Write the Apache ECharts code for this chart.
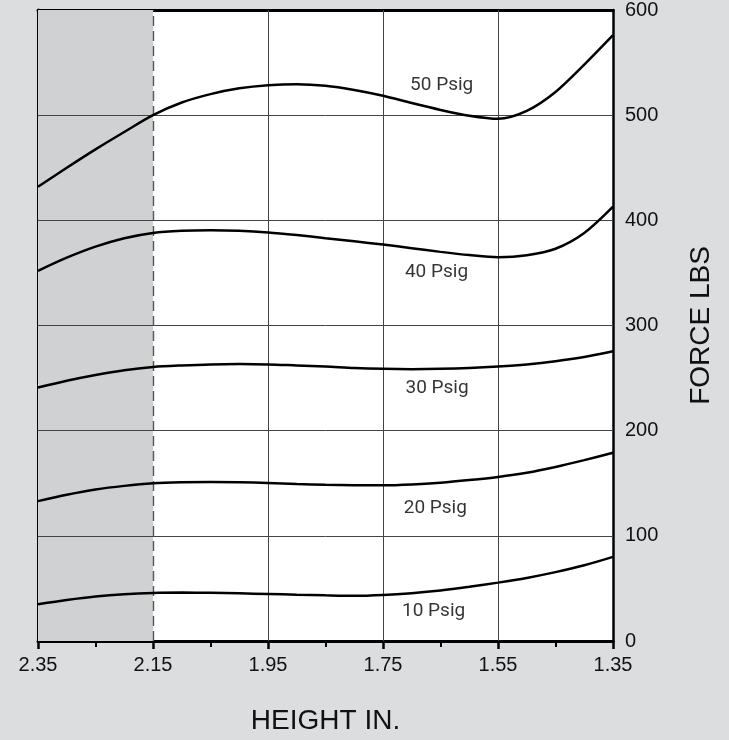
<!DOCTYPE html>
<html>
<head>
<meta charset="utf-8">
<script src="https://cdn.jsdelivr.net/npm/echarts@6/dist/echarts.min.js"></script>
<style>
  html, body { margin: 0; padding: 0; background: #dcdddf; }
  #chart { width: 729px; height: 740px; }
</style>
</head>
<body>
<div id="chart"></div>
<script>
// ---- data ----
const heights = [2.35, 2.30, 2.25, 2.20, 2.15, 2.10, 2.05, 2.00, 1.95, 1.90, 1.85,
                 1.80, 1.75, 1.70, 1.65, 1.60, 1.55, 1.50, 1.45, 1.40, 1.35];
const psig50 = [432, 450, 467.5, 484, 500, 512, 520, 525.5, 528.5, 529.5, 528,
                524, 518.5, 511.5, 505, 499.5, 496.5, 504, 522, 548, 576];
const psig40 = [352, 364.5, 375, 383, 388, 390, 390.5, 390, 388.5, 386, 383,
                380, 377, 373.5, 370, 367, 365, 366.8, 373, 388, 413];
const psig30 = [241, 247.5, 253, 257.5, 260.5, 262, 263, 263.3, 263, 262, 261,
                259.6, 258.8, 258.5, 258.8, 259.6, 261, 263, 266, 270, 275.5];
const psig20 = [133, 139, 144, 147.5, 150, 151, 151.3, 151, 150.2, 149.3, 148.6,
                148.1, 148, 148.8, 150.5, 153, 156, 160, 165.5, 172, 179];
const psig10 = [35, 39, 42.3, 44.5, 45.7, 46, 45.8, 45.3, 44.7, 44, 43.4,
                43, 43.8, 45.5, 48, 51.5, 55.5, 60, 65.5, 72, 80];
const seriesNames = ['50 Psig', '40 Psig', '30 Psig', '20 Psig', '10 Psig'];
const labelHeights = [1.648, 1.657, 1.656, 1.659, 1.662];
const labelForces = [528, 351, 240, 126, 28];
const shadedRange = [2.35, 2.15];
const dashedHeight = 2.15;
const solidHeights = [1.95, 1.75, 1.55];
const forceGrid = [100, 200, 300, 400, 500];

const X0 = 2.35; // axis measures distance from 2.35 so ticks start at a multiple of the interval
const toX = h => Math.round((X0 - h) * 10000) / 10000;
const pairs = vals => heights.map((h, i) => [toX(h), vals[i]]);

const chart = echarts.init(document.getElementById('chart'));
const allVals = [psig50, psig40, psig30, psig20, psig10];

const curveSeries = allVals.map((v, i) => ({
  name: seriesNames[i],
  type: 'line',
  data: pairs(v),
  smooth: 0.3,
  symbol: 'none',
  z: 5,
  yAxisIndex: 0,
  lineStyle: { color: '#000', width: 2.5 }
}));

const option = {
  backgroundColor: '#dcdddf',
  animation: false,
  textStyle: { fontFamily: 'Liberation Sans, Arial, sans-serif' },
  grid: { left: 38, right: 116, top: 7, bottom: 94, show: true, backgroundColor: '#ffffff', borderWidth: 0 },
  xAxis: [{
    type: 'value', min: 0, max: 1, interval: 0.2, position: 'bottom',
    axisLine: { onZero: false, lineStyle: { color: '#000', width: 3 } },
    axisTick: { show: true, length: 8, lineStyle: { color: '#000', width: 2.5 } },
    minorTick: { show: true, splitNumber: 2, length: 6, lineStyle: { color: '#000', width: 2 } },
    splitLine: { show: false },
    axisLabel: { margin: 14, fontSize: 20, color: '#111',
      formatter: v => (X0 - v).toFixed(2) },
    name: 'HEIGHT IN.', nameLocation: 'middle', nameGap: 66,
    nameTextStyle: { fontSize: 28, color: '#111' }
  }, {
    type: 'value', min: 0, max: 1, interval: 0.2, position: 'top',
    axisLine: { onZero: false, lineStyle: { color: '#000', width: 3 } },
    axisTick: { show: false }, axisLabel: { show: false }, splitLine: { show: false }
  }],
  yAxis: [{
    type: 'value', min: 0, max: 600, interval: 100, position: 'right',
    axisLine: { show: true, onZero: false, lineStyle: { color: '#000', width: 2.5 } },
    axisTick: { show: false },
    splitLine: { show: false },
    axisLabel: { margin: 12, fontSize: 20, color: '#111' },
    name: 'FORCE LBS', nameLocation: 'middle', nameGap: 74, nameRotate: 90,
    nameTextStyle: { fontSize: 28, color: '#111' }
  }, {
    type: 'value', min: 0, max: 600, interval: 20, position: 'left',
    axisLine: { show: true, onZero: false, lineStyle: { color: '#000', width: 3 } },
    axisTick: { show: true, inside: true, length: 3, lineStyle: { color: '#000', width: 2 } },
    axisLabel: { show: false }, splitLine: { show: false }
  }],
  series: [
    {
      name: 'shade', type: 'line', data: [], z: 1, yAxisIndex: 0,
      markArea: {
        silent: true,
        itemStyle: { color: '#d0d1d3' },
        data: [[{ xAxis: toX(shadedRange[0]) }, { xAxis: toX(shadedRange[1]) }]]
      }
    },
    {
      name: 'grid', type: 'line', data: [], z: 2, yAxisIndex: 0,
      markLine: {
        silent: true, symbol: 'none', label: { show: false },
        lineStyle: { color: '#444', width: 1, type: 'solid' },
        data: [
          { xAxis: toX(dashedHeight), lineStyle: { color: '#555', width: 1.4, type: [10, 5] } },
          ...solidHeights.map(h => ({ xAxis: toX(h) })),
          ...forceGrid.map(f => ({ yAxis: f }))
        ]
      }
    },
    ...curveSeries,
    {
      name: 'labels', type: 'scatter', z: 6, yAxisIndex: 0,
      symbolSize: 0,
      data: seriesNames.map((n, i) => ({ name: n, value: [toX(labelHeights[i]), labelForces[i]] })),
      label: {
        show: true, position: 'inside', formatter: '{b}',
        fontFamily: 'Roboto, sans-serif',
        fontSize: 19, color: '#000'
      }
    }
  ]
};
chart.setOption(option);
</script>
</body>
</html>
